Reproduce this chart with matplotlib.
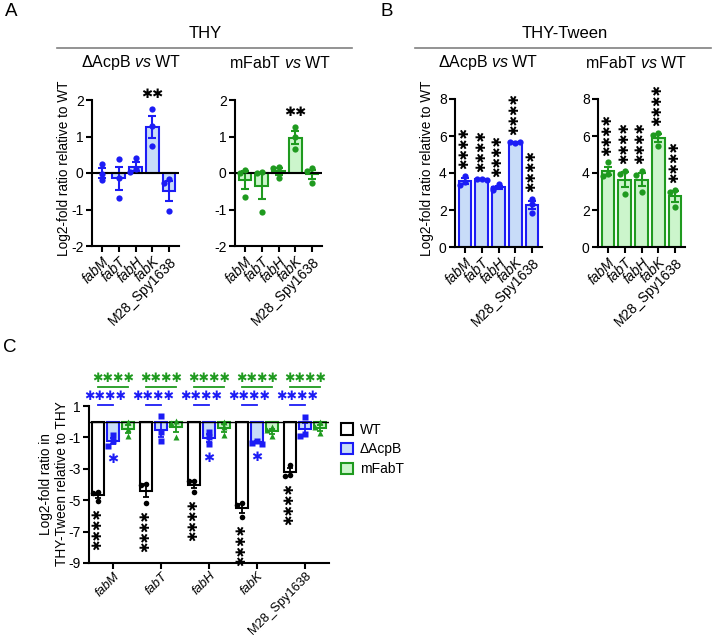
import numpy as np
import matplotlib
matplotlib.use('Agg')
import matplotlib.pyplot as plt
from matplotlib.patches import Patch
from matplotlib.lines import Line2D

plt.rcParams['font.family'] = ['Liberation Sans', 'DejaVu Sans']
plt.rcParams['mathtext.fontset'] = 'custom'
plt.rcParams['mathtext.it'] = 'Liberation Sans:italic'
plt.rcParams['mathtext.rm'] = 'Liberation Sans'
plt.rcParams['axes.unicode_minus'] = False

genes = ['fabM', 'fabT', 'fabH', 'fabK', 'M28_Spy1638']

# panel A - THY, log2 ratio relative to WT (3 replicates)
thy_acpb = [[0.25, -0.03, -0.2], [0.37, -0.13, -0.69], [0.4, 0.1, 0.03],
            [1.75, 1.28, 0.75], [-0.17, -0.27, -1.03]]
thy_mfabt = [[0.08, 0.01, -0.67], [0.02, 0.0, -1.07], [0.16, 0.14, -0.15],
             [1.25, 0.99, 0.65], [0.13, 0.05, -0.28]]
thy_acpb_sig = ['', '', '', '**', '']
thy_mfabt_sig = ['', '', '', '**', '']

# panel B - THY-Tween, log2 ratio relative to WT
tw_acpb = [[3.84, 3.53, 3.34], [3.66, 3.68, 3.63], [3.4, 3.2, 3.1],
           [5.64, 5.68, 5.66], [2.62, 2.3, 1.85]]
tw_mfabt = [[4.57, 3.95, 3.85], [4.1, 3.97, 2.86], [4.1, 3.87, 2.95],
            [6.17, 6.04, 5.47], [3.1, 3.0, 2.15]]
tw_acpb_sig = ['****'] * 5
tw_mfabt_sig = ['****'] * 5

# panel C - THY-Tween relative to THY
strains = ['WT', '\u0394AcpB', 'mFabT']
c_wt = [[-4.5, -4.55, -5.05], [-3.95, -4.05, -5.2], [-3.75, -3.8, -4.45],
        [-5.2, -5.3, -6.05], [-2.74, -3.42, -3.46]]
c_acpb = [[-0.85, -1.25, -1.55], [0.35, -0.65, -1.25], [-0.65, -1.0, -1.45],
          [-1.2, -1.35, -1.42], [0.3, -0.8, -0.9]]
c_mfabt = [[-0.05, -0.45, -0.9], [0.05, -0.1, -1.0], [0.0, -0.35, -0.85],
           [-0.35, -0.55, -0.9], [-0.05, -0.35, -0.75]]
c_wt_sig = ['****'] * 5
c_acpb_sig = ['*', '', '*', '*', '']
c_bracket_acpb = ['****'] * 5
c_bracket_mfabt = ['****'] * 5

BLUE = '#1c1cf5'
BLUE_FILL = '#c8dcf8'
GREEN = '#1f9a1f'
GREEN_FILL = '#ccf5cc'
STAR = '\u2731'

W, H = 712, 638
fig = plt.figure(figsize=(W / 100, H / 100), dpi=100)


def fx(px):
    return px / W


def fy(py):
    return 1 - py / H


def spread(vals, thr, step):
    placed, offs = [], []
    pattern = [0, -1, 1, -2, 2]
    for v in vals:
        k = sum(abs(v - p) < thr for p in placed)
        offs.append(pattern[min(k, 4)] * step)
        placed.append(v)
    return np.array(offs)


def style_axis(ax, size=10):
    for s in ['top', 'right']:
        ax.spines[s].set_visible(False)
    for s in ['left', 'bottom']:
        ax.spines[s].set_linewidth(1.5)
    ax.tick_params(width=1.5, length=4, labelsize=size, pad=2)


def set_gene_labels(ax, x):
    ax.set_xticks(x)
    ax.set_xticklabels(genes, rotation=45, ha='right', rotation_mode='anchor')
    for lab in ax.get_xticklabels():
        if lab.get_text() != 'M28_Spy1638':
            lab.set_style('italic')


def bar_panel(rect, data, color, fill, ylim, yticks, sig, vertical, zero_line):
    ax = fig.add_axes(rect)
    x = np.arange(len(genes))
    means = np.array([np.mean(d) for d in data])
    sems = np.array([np.std(d, ddof=1) / np.sqrt(len(d)) for d in data])
    ax.bar(x, means, width=0.75, color=fill, edgecolor=color, linewidth=1.5, zorder=2)
    ax.errorbar(x, means, yerr=sems, fmt='none', ecolor=color, elinewidth=1.5,
                capsize=3, capthick=1.5, zorder=3)
    if zero_line:
        ax.axhline(0, color='black', lw=1.5, zorder=3.5)
    ppu = rect[3] * H / (ylim[1] - ylim[0])
    for i, d in enumerate(data):
        offs = spread(d, 5 / ppu, 0.3)
        ax.plot(x[i] + offs, d, 'o', color=color, ms=4.5, mec='none', zorder=4)
    for i, s in enumerate(sig):
        if not s:
            continue
        top = max(max(data[i]), means[i] + sems[i])
        txt = STAR * len(s)
        if vertical:
            ax.annotate(txt, (x[i], top), xytext=(0, 5), textcoords='offset points',
                        ha='center', va='bottom', rotation=90, fontsize=9,
                        annotation_clip=False)
        else:
            ax.annotate(txt, (x[i], top), xytext=(0, 10), textcoords='offset points',
                        ha='center', va='center', fontsize=9.5, annotation_clip=False)
    ax.set_xlim(-0.6, 4.6)
    ax.set_ylim(*ylim)
    ax.set_yticks(yticks)
    style_axis(ax)
    set_gene_labels(ax, x)
    return ax


# ---- panel A
bar_panel([fx(92), fy(246), fx(87), (246 - 100) / H], thy_acpb, BLUE, BLUE_FILL,
          (-2, 2), [-2, -1, 0, 1, 2], thy_acpb_sig, False, True)
bar_panel([fx(235), fy(246), fx(87), (246 - 100) / H], thy_mfabt, GREEN, GREEN_FILL,
          (-2, 2), [-2, -1, 0, 1, 2], thy_mfabt_sig, False, True)

# ---- panel B
bar_panel([fx(455), fy(247), fx(87), (247 - 99) / H], tw_acpb, BLUE, BLUE_FILL,
          (0, 8), [0, 2, 4, 6, 8], tw_acpb_sig, True, False)
bar_panel([fx(598), fy(247), fx(87), (247 - 99) / H], tw_mfabt, GREEN, GREEN_FILL,
          (0, 8), [0, 2, 4, 6, 8], tw_mfabt_sig, True, False)

ylab = 'Log2-fold ratio relative to WT'
fig.text(fx(64), fy(168), ylab, rotation=90, ha='center', va='center', fontsize=9.8)
fig.text(fx(427), fy(168), ylab, rotation=90, ha='center', va='center', fontsize=9.8)

# headers
for cx, x0, x1, title in [(205, 57, 352, 'THY'), (565, 415, 711, 'THY-Tween')]:
    fig.text(fx(cx), fy(33), title, ha='center', va='center', fontsize=12)
    fig.add_artist(Line2D([fx(x0), fx(x1)], [fy(48), fy(48)], color='#808080', lw=1.2))
sub = ['\u0394AcpB $\\mathit{vs}$ WT', 'mFabT $\\mathit{vs}$ WT']
for cx, t in [(131, sub[0]), (280, sub[1]), (488, sub[0]), (636, sub[1])]:
    fig.text(fx(cx), fy(63), t, ha='center', va='center', fontsize=11.5)

# ---- panel C
axc = fig.add_axes([fx(89), fy(563), fx(240), (563 - 406) / H])
xg = np.arange(len(genes))
dx = 0.3125
groups = [(c_wt, 'black', 'white', 'o', -dx), (c_acpb, BLUE, BLUE_FILL, 's', 0),
          (c_mfabt, GREEN, GREEN_FILL, '^', dx)]
ppu_c = (563 - 406) / 10
stats = []
for data, col, fill, mk, off in groups:
    means = np.array([np.mean(d) for d in data])
    sems = np.array([np.std(d, ddof=1) / np.sqrt(len(d)) for d in data])
    stats.append((means, sems))
    axc.bar(xg + off, means, width=0.25, color=fill, edgecolor=col, linewidth=1.5, zorder=2)
    axc.errorbar(xg + off, means, yerr=sems, fmt='none', ecolor=col, elinewidth=1.3,
                 capsize=2.5, capthick=1.3, zorder=3)
    for i, d in enumerate(data):
        offs = spread(d, 5 / ppu_c, 0.1)
        axc.plot(xg[i] + off + offs, d, mk, color=col, ms=4, mec='none', zorder=4)
axc.axhline(0, color='black', lw=1.0, zorder=3.5)

# black stars below WT, blue stars below dAcpB
for i in range(len(genes)):
    m, s = stats[0][0][i], stats[0][1][i]
    low = min(min(c_wt[i]), m - s)
    if c_wt_sig[i]:
        axc.annotate(STAR * 4, (xg[i] - dx, low), xytext=(0, -5), textcoords='offset points',
                     ha='center', va='top', rotation=90, fontsize=9, annotation_clip=False)
    m, s = stats[1][0][i], stats[1][1][i]
    low = min(min(c_acpb[i]), m - s)
    if c_acpb_sig[i]:
        axc.annotate(STAR, (xg[i], low), xytext=(0, -6), textcoords='offset points',
                     ha='center', va='top', fontsize=9.5, color=BLUE, annotation_clip=False)
    # brackets above
    axc.plot([xg[i] - dx, xg[i]], [1.08, 1.08], color=BLUE, lw=1.3, clip_on=False)
    axc.text(xg[i] - dx / 2, 1.6, STAR * len(c_bracket_acpb[i]), ha='center', va='center',
             fontsize=9, color=BLUE)
    axc.plot([xg[i] - dx, xg[i] + dx], [2.23, 2.23], color=GREEN, lw=1.3, clip_on=False)
    axc.text(xg[i], 2.74, STAR * len(c_bracket_mfabt[i]), ha='center', va='center',
             fontsize=9, color=GREEN)

axc.set_xlim(-0.5, 4.5)
axc.set_ylim(-9, 1)
axc.set_yticks([1, -1, -3, -5, -7, -9])
style_axis(axc)
set_gene_labels(axc, xg)
axc.tick_params(axis='x', labelsize=9.3, pad=1)
fig.text(fx(54), fy(484), 'Log2-fold ratio in\nTHY-Tween relative to THY', rotation=90,
         ha='center', va='center', fontsize=9.8, linespacing=1.1)

handles = [Patch(facecolor='white', edgecolor='black', lw=1.5, label=strains[0]),
           Patch(facecolor=BLUE_FILL, edgecolor=BLUE, lw=1.5, label=strains[1]),
           Patch(facecolor=GREEN_FILL, edgecolor=GREEN, lw=1.5, label=strains[2])]
axc.legend(handles=handles, loc='upper left', bbox_to_anchor=(fx(335), fy(417)),
           bbox_transform=fig.transFigure, frameon=False, handlelength=0.9,
           handleheight=0.9, handletextpad=0.5, labelspacing=0.42, fontsize=10,
           borderaxespad=0)

# panel letters
fig.text(fx(5), fy(12), 'A', fontsize=13.5, ha='left', va='center')
fig.text(fx(380), fy(12), 'B', fontsize=13.5, ha='left', va='center')
fig.text(fx(3), fy(348), 'C', fontsize=13.5, ha='left', va='center')

fig.savefig('out.png', dpi=100)
